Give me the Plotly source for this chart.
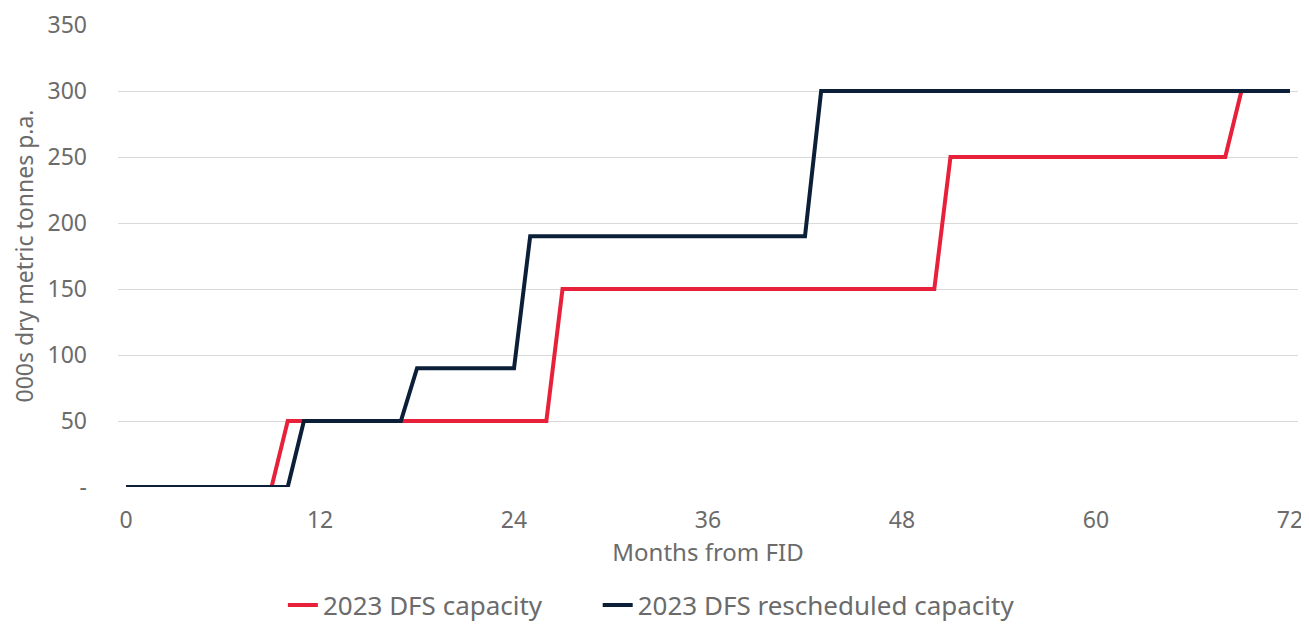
import plotly.graph_objects as go

months = list(range(0, 73))
# Capacity (000s dry metric tonnes p.a.): (first month at level, level)
red_steps = [(0, 0), (10, 50), (27, 150), (51, 250), (69, 300)]
navy_steps = [(0, 0), (11, 50), (18, 90), (25, 190), (43, 300)]

def expand(steps):
    vals = []
    for m in months:
        v = 0
        for start, val in steps:
            if m >= start:
                v = val
        vals.append(v)
    return vals

dfs_capacity = expand(red_steps)
rescheduled_capacity = expand(navy_steps)

x_ticks = [0, 12, 24, 36, 48, 60, 72]
y_ticks = [0, 50, 100, 150, 200, 250, 300, 350]
y_ticktext = ["-", "50", "100", "150", "200", "250", "300", "350"]

FONT = "'Noto Sans', 'Open Sans', sans-serif"
GREY = "#6b6b6b"

fig = go.Figure()
fig.add_trace(go.Scatter(x=months, y=dfs_capacity, mode="lines",
                         name="2023 DFS capacity", legend="legend",
                         line=dict(color="#E8213A", width=4)))
fig.add_trace(go.Scatter(x=months, y=rescheduled_capacity, mode="lines",
                         name="2023 DFS rescheduled capacity", legend="legend2",
                         line=dict(color="#0C1F38", width=4)))

leg_common = dict(orientation="h", xref="container", xanchor="left",
                  yref="container", y=0.043, yanchor="middle",
                  font=dict(size=26, color=GREY), bgcolor="rgba(0,0,0,0)")

fig.update_layout(
    width=1309, height=624,
    margin=dict(l=110, r=19, t=17, b=145, autoexpand=False),
    paper_bgcolor="white", plot_bgcolor="white",
    font=dict(family=FONT, color=GREY, size=23),
    showlegend=True,
    legend=dict(x=0.210, **leg_common),
    legend2=dict(x=0.4505, **leg_common),
)
fig.update_xaxes(range=[-0.5, 72.5], tickvals=x_ticks, showgrid=False, zeroline=False,
                 showline=False, ticks="", automargin=False, ticklabelstandoff=17,
                 tickfont=dict(size=23, color=GREY),
                 title=dict(text="Months from FID", font=dict(size=24, color=GREY), standoff=4))
fig.update_yaxes(range=[0, 350], tickvals=y_ticks, ticktext=y_ticktext,
                 showgrid=True, gridcolor="#D9D9D9", gridwidth=1, zeroline=False,
                 showline=False, ticks="", ticklabelstandoff=30, automargin=False,
                 tickfont=dict(size=23, color=GREY),
                 title=dict(text="000s dry metric tonnes p.a.", font=dict(size=23, color=GREY), standoff=10))

fig.write_html("out.html")
